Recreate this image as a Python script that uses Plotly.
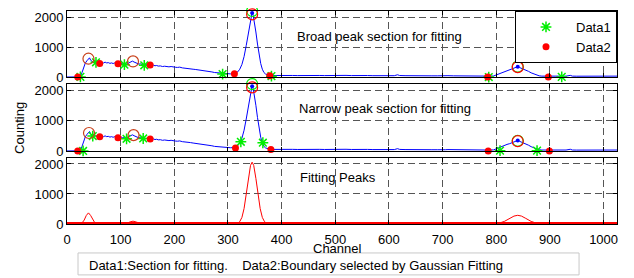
import plotly.graph_objects as go

# ---------------- data ----------------
spec_ch = [0, 10, 20, 25, 28, 31, 34, 37, 40, 42, 44, 47, 50, 53, 56, 59, 62, 65, 68, 71, 74, 77, 80, 83, 86, 89,
           92, 95, 98, 101, 104, 107, 110, 113, 116, 119, 122, 125, 128, 131, 134, 137, 140, 143, 146, 149, 152,
           155, 158, 161, 164, 167, 170, 174, 178, 182, 186, 190, 194, 198, 202, 206, 210, 215, 220, 225, 230,
           235, 240, 245, 250, 255, 260, 265, 270, 275, 280, 285, 290, 295, 300, 305, 310, 314, 318, 322, 326,
           330, 334, 338, 341, 343, 345, 347, 349, 352, 355, 358, 361, 364, 367, 370, 374, 378, 382, 390, 400,
           410, 420, 430, 440, 450, 460, 470, 480, 490, 500, 510, 520, 530, 540, 550, 556, 560, 570, 580, 590,
           600, 610, 616, 620, 630, 640, 650, 660, 670, 680, 690, 700, 705, 710, 720, 730, 740, 750, 760, 770,
           780, 790, 795, 800, 805, 810, 815, 820, 825, 830, 834, 837, 840, 843, 846, 850, 855, 860, 865, 870,
           875, 880, 885, 890, 900, 910, 920, 930, 938, 942, 950, 960, 970, 980, 990, 1000, 1010, 1020, 1025]
spec_val = [0, 0, 0, 5, 150, 330, 460, 540, 600, 640, 560, 520, 480, 500, 470, 490, 460, 480, 470, 495, 470, 480,
            455, 470, 450, 470, 445, 460, 440, 455, 430, 440, 425, 450, 480, 505, 530, 500, 470, 455, 430, 440,
            415, 420, 400, 415, 395, 405, 385, 395, 375, 385, 365, 370, 350, 360, 345, 340, 350, 330, 325, 320,
            330, 305, 300, 285, 275, 260, 250, 240, 225, 215, 195, 180, 170, 150, 140, 130, 120, 115, 110, 105,
            110, 125, 170, 260, 420, 680, 1050, 1500, 1850, 2050, 2150, 2050, 1850, 1500, 1100, 750, 450, 260,
            150, 100, 70, 55, 50, 55, 50, 60, 52, 48, 55, 50, 45, 52, 48, 55, 50, 45, 55, 48, 50, 45, 70, 50, 45,
            50, 42, 48, 45, 75, 50, 45, 40, 45, 40, 45, 40, 40, 55, 40, 45, 40, 35, 40, 35, 35, 30, 30, 30, 35,
            70, 110, 150, 185, 215, 240, 270, 310, 330, 345, 320, 300, 270, 230, 190, 140, 100, 65, 40, 30, 30,
            28, 30, 25, 30, 55, 30, 28, 30, 25, 30, 28, 30, 28, 30, 30]

# panel 1 : broad peak sections
p1_data1_ch = [25, 54, 107, 144, 290, 381, 786, 922]
p1_data1_val = [5, 490, 410, 390, 100, 30, 0, 5]
p1_data2_ch = [20, 61, 95, 155, 312, 378, 784, 897]
p1_data2_val = [0, 450, 440, 400, 110, 45, 0, 0]
p1_circ_ch = [40, 123, 345, 840]
p1_circ_val = [610, 520, 2090, 330]
p1_gcirc_ch = [345, 840]
p1_gcirc_val = [2200, 345]

# panel 2 : narrow peak sections
p2_data1_ch = [30, 48, 111, 142, 324, 365, 807, 876]
p2_data1_val = [0, 490, 400, 410, 300, 270, 10, 10]
p2_data2_ch = [20, 61, 95, 155, 314, 380, 785, 899]
p2_data2_val = [0, 470, 430, 390, 100, 50, 0, 0]
p2_circ_ch = [41, 124, 345, 840]
p2_circ_val = [590, 520, 2090, 320]
p2_gcirc_ch = [345, 840]
p2_gcirc_val = [2200, 335]

peak_top_ch = [345, 840]
peak_top_val = [2130, 340]

# panel 3 : fitted peaks
fit_ch = [0, 24, 28, 32, 36, 40, 44, 48, 52, 56, 105, 111, 117, 123, 129, 135, 141, 312, 318, 322, 326, 330,
          334, 338, 342, 345, 348, 352, 356, 360, 364, 368, 372, 378, 796, 805, 815, 825, 833, 840, 847, 855,
          865, 875, 884, 1025]
fit_val = [0, 0, 35, 130, 285, 370, 285, 130, 35, 0, 0, 22, 66, 95, 66, 22, 0, 0, 25, 80, 220, 515, 975, 1520,
           1950, 2060, 1950, 1520, 975, 515, 220, 80, 25, 0, 5, 26, 86, 187, 264, 290, 264, 187, 86, 26, 5, 0]
base_ch = [0, 1025]
base_val = [0, 0]

x_ticks = [0, 100, 200, 300, 400, 500, 600, 700, 800, 900, 1000]
y_ticks = [0, 1000, 2000]

# ---------------- styling ----------------
FONT = "Liberation Sans, Arial, sans-serif"
BLUE = "#0000ff"
RED = "#ff0000"
GREEN = "#00ee00"
BROWN = "#c8401a"

fig = go.Figure()


def add_panel(n, d1c, d1v, d2c, d2v, cc, cv, gc, gv, legend):
    xa = "x" if n == 1 else "x%d" % n
    ya = "y" if n == 1 else "y%d" % n
    fig.add_trace(go.Scatter(x=spec_ch, y=spec_val, mode="lines", line=dict(color=BLUE, width=1),
                             xaxis=xa, yaxis=ya, showlegend=False, hoverinfo="skip"))
    fig.add_trace(go.Scatter(x=d1c, y=d1v, mode="markers", name="Data1", showlegend=legend,
                             marker=dict(symbol="asterisk-open", size=9, color=GREEN, line=dict(color=GREEN, width=1.5)),
                             xaxis=xa, yaxis=ya, cliponaxis=False))
    fig.add_trace(go.Scatter(x=d2c, y=d2v, mode="markers", name="Data2", showlegend=legend,
                             marker=dict(symbol="circle", size=7, color=RED),
                             xaxis=xa, yaxis=ya, cliponaxis=False))
    fig.add_trace(go.Scatter(x=gc, y=gv, mode="markers", showlegend=False,
                             marker=dict(symbol="circle-open", size=11, color=GREEN, line=dict(width=1.2)),
                             xaxis=xa, yaxis=ya, cliponaxis=False))
    fig.add_trace(go.Scatter(x=cc, y=cv, mode="markers", showlegend=False,
                             marker=dict(symbol="circle-open", size=11, color=[BROWN, BROWN, RED, RED],
                                         line=dict(width=1.2)),
                             xaxis=xa, yaxis=ya, cliponaxis=False))
    fig.add_trace(go.Scatter(x=peak_top_ch, y=peak_top_val, mode="markers", showlegend=False,
                             marker=dict(symbol="circle", size=4, color=BLUE),
                             xaxis=xa, yaxis=ya, cliponaxis=False))


add_panel(1, p1_data1_ch, p1_data1_val, p1_data2_ch, p1_data2_val, p1_circ_ch, p1_circ_val,
          p1_gcirc_ch, p1_gcirc_val, True)
add_panel(2, p2_data1_ch, p2_data1_val, p2_data2_ch, p2_data2_val, p2_circ_ch, p2_circ_val,
          p2_gcirc_ch, p2_gcirc_val, False)

fig.add_trace(go.Scatter(x=base_ch, y=base_val, mode="lines", line=dict(color=RED, width=4),
                         xaxis="x3", yaxis="y3", showlegend=False, hoverinfo="skip"))
fig.add_trace(go.Scatter(x=fit_ch, y=fit_val, mode="lines", line=dict(color=RED, width=1),
                         xaxis="x3", yaxis="y3", showlegend=False, hoverinfo="skip"))

axis_common = dict(showline=True, linecolor="black", linewidth=1, mirror="ticks", ticks="inside",
                   ticklen=4, tickcolor="black", showgrid=True, gridcolor="#555555", griddash="7px,4px",
                   gridwidth=1, zeroline=False, tickfont=dict(family=FONT, size=13, color="black"))

# the page body has an 8px default margin: the figure is shrunk by 8px so that
# the plot area lands at x 67..617, y 11..224 of the browser window
domains = {1: [0.690, 1.0], 2: [0.343, 0.657], 3: [0.0, 0.310]}
layout = dict(
    width=626, height=270,
    margin=dict(l=59, r=17, t=3, b=54),
    paper_bgcolor="white", plot_bgcolor="white",
    font=dict(family=FONT, size=13, color="black"),
    showlegend=True,
    legend=dict(x=1.0, y=1.0, xanchor="right", yanchor="top", bordercolor="black", borderwidth=1,
                bgcolor="white", font=dict(family=FONT, size=13, color="black"), itemwidth=50,
                tracegroupgap=0),
)
for n in (1, 2, 3):
    xk = "xaxis" if n == 1 else "xaxis%d" % n
    yk = "yaxis" if n == 1 else "yaxis%d" % n
    ya = "y" if n == 1 else "y%d" % n
    xa = "x" if n == 1 else "x%d" % n
    layout[xk] = dict(axis_common, range=[0, 1025], tickvals=x_ticks, anchor=ya,
                      showticklabels=(n == 3), domain=[0, 1])
    if n == 3:
        layout[xk]["ticklabelstandoff"] = 3
    layout[yk] = dict(axis_common, range=[0, 2200], tickvals=y_ticks, anchor=xa, domain=domains[n])
fig.update_layout(**layout)

ann = [
    dict(text="Broad peak section for fitting", x=425, y=1360, xref="x", yref="y", xanchor="left",
         yanchor="middle", showarrow=False),
    dict(text="Narrow peak section for fitting", x=428, y=1410, xref="x2", yref="y2", xanchor="left",
         yanchor="middle", showarrow=False),
    dict(text="Fitting Peaks", x=431, y=1565, xref="x3", yref="y3", xanchor="left",
         yanchor="middle", showarrow=False),
    dict(text="Channel", x=0.491, y=-0.113, xref="paper", yref="paper", xanchor="center",
         yanchor="middle", showarrow=False),
    dict(text="Counting", x=-0.0855, y=0.451, xref="paper", yref="paper", xanchor="center",
         yanchor="middle", showarrow=False, textangle=-90),
    dict(text="Data1:Section for fitting.&nbsp;&nbsp;&nbsp; Data2:Boundary selected by Gaussian Fitting",
         x=0.036, y=-0.195, xref="paper", yref="paper", xanchor="left", yanchor="middle", showarrow=False),
]
fig.update_layout(annotations=ann)
fig.add_shape(type="rect", xref="paper", yref="paper", x0=0.02, x1=0.931, y0=-0.239, y1=-0.136,
              line=dict(color="#c8c8c8", width=1), fillcolor="rgba(0,0,0,0)")

fig.write_html("out.html")
